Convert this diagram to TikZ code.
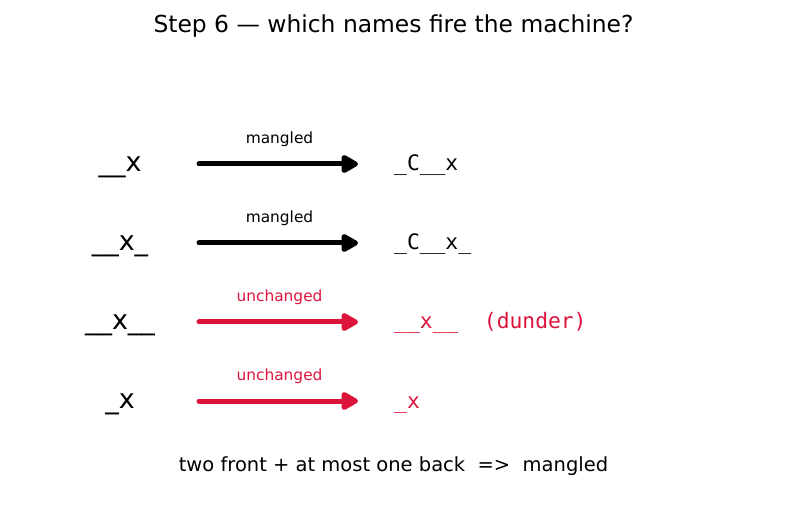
\documentclass[tikz,border=0pt]{standalone}
\usepackage{fontspec}
\setmainfont{DejaVu Sans}
\setmonofont{DejaVu Sans Mono}
\usetikzlibrary{arrows.meta}
\definecolor{crim}{RGB}{220,20,60}
\tikzset{
  lbl/.style={anchor=base, inner sep=0pt, font=\fontsize{27}{32}\selectfont},
  rlbl/.style={anchor=base west, inner sep=0pt, font=\ttfamily\fontsize{21.3}{25}\selectfont},
  alab/.style={anchor=base, inner sep=0pt, font=\fontsize{15.4}{18}\selectfont},
  conn/.style={line width=5pt, line cap=round, -{Triangle[length=19pt,width=20pt,round]}},
}
\begin{document}
\begin{tikzpicture}[x=1pt,y=-1pt]
\useasboundingbox (0,0) rectangle (787,510);
\node[anchor=base, inner sep=0pt, font=\fontsize{23.4}{28}\selectfont] (title) at (393.5,33) {Step 6 — which names fire the machine?};

\node[lbl] (l1) at (120,172) {\_\_x};
\node[lbl] (l2) at (120,251) {\_\_x\_};
\node[lbl] (l3) at (120,330) {\_\_x\_\_};
\node[lbl] (l4) at (120,409) {\_x};

\coordinate (s1) at (199,164); \coordinate (e1) at (358,164);
\coordinate (s2) at (199,243); \coordinate (e2) at (358,243);
\coordinate (s3) at (199,322); \coordinate (e3) at (358,322);
\coordinate (s4) at (199,401); \coordinate (e4) at (358,401);

\draw[conn, black] (s1) -- (e1);
\draw[conn, black] (s2) -- (e2);
\draw[conn, crim] (s3) -- (e3);
\draw[conn, crim] (s4) -- (e4);

\node[alab] (a1) at (279.5,144) {mangled};
\node[alab] (a2) at (279.5,223) {mangled};
\node[alab, text=crim] (a3) at (279.5,302) {unchanged};
\node[alab, text=crim] (a4) at (279.5,381) {unchanged};

\node[rlbl] (r1) at (394,171) {\_C\_\_x};
\node[rlbl] (r2) at (394,250) {\_C\_\_x\_};
\node[rlbl, text=crim] (r3) at (394,329) {\_\_x\_\_\ \ (dunder)};
\node[rlbl, text=crim] (r4) at (394,408) {\_x};

\node[anchor=base, inner sep=0pt, font=\fontsize{19.5}{23}\selectfont] (foot) at (393.5,471) {two front + at most one back \ => \ mangled};
\end{tikzpicture}
\end{document}
